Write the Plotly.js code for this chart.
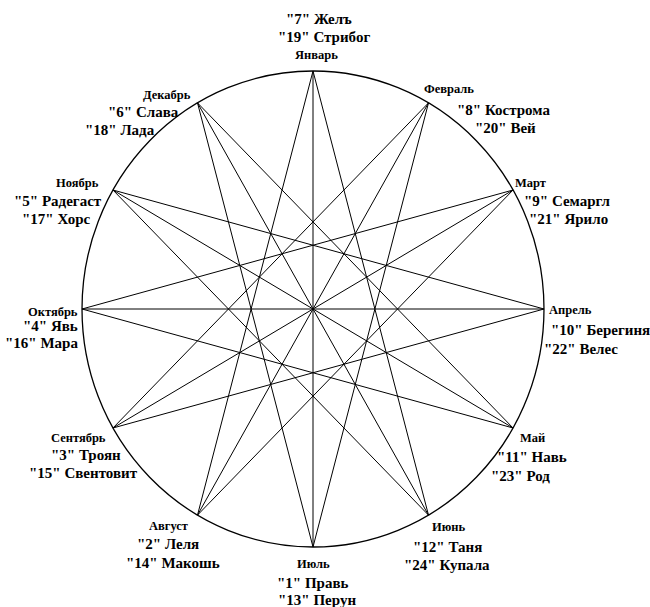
<!DOCTYPE html>
<html>
<head>
<meta charset="utf-8">
<script src="https://cdn.plot.ly/plotly-3.0.1.min.js"></script>
<style>html,body{margin:0;padding:0;background:#fff;}#chart{width:650px;height:607px;}</style>
</head>
<body>
<div id="chart"></div>
<script>
// ---- data ----
const months = ['Январь','Февраль','Март','Апрель','Май','Июнь','Июль','Август','Сентябрь','Октябрь','Ноябрь','Декабрь'];
const firstNums  = [7, 8, 9, 10, 11, 12, 1, 2, 3, 4, 5, 6];
const firstNames = ['Желъ','Кострома','Семаргл','Берегиня','Навь','Таня','Правь','Леля','Троян','Явь','Радегаст','Слава'];
const secondNums  = [19, 20, 21, 22, 23, 24, 13, 14, 15, 16, 17, 18];
const secondNames = ['Стрибог','Вей','Ярило','Велес','Род','Купала','Перун','Макошь','Свентовит','Мара','Хорс','Лада'];
const starStep = 5;      // {12/5} star chords
const diameterStep = 6;  // chords through the centre

// ---- geometry / layout ----
const W = 650, H = 607, CX = 313, CY = 309, RX = 231, RY = 238;
function vx(i){ return Math.cos((90 - 30*i) * Math.PI/180); }
function vy(i){ return Math.sin((90 - 30*i) * Math.PI/180); }

const xs = [], ys = [];
const n = months.length;
for (let i = 0; i < n; i++) {
  const j = (i + starStep) % n;
  xs.push(vx(i), vx(j), null); ys.push(vy(i), vy(j), null);
}
for (let i = 0; i < n/2; i++) {
  const j = (i + diameterStep) % n;
  xs.push(vx(i), vx(j), null); ys.push(vy(i), vy(j), null);
}

// label placement in pixels: [month, first line, second line], each [x, y, anchor]
const labelPos = [
  [[316,55,'center'],[319,19,'center'],[324,37,'center']],
  [[449,89,'center'],[504,110,'center'],[505,128,'center']],
  [[530,183,'center'],[567,201,'center'],[568,219,'center']],
  [[570,310,'center'],[600,330,'center'],[581,349,'center']],
  [[532,438,'center'],[532,457,'center'],[520,476,'center']],
  [[448,527,'center'],[447,547,'center'],[447,565,'center']],
  [[313,564,'center'],[313,583,'center'],[317,600,'center']],
  [[168,526,'center'],[168,544,'center'],[173,563,'center']],
  [[78,438,'center'],[86,455,'center'],[83,473,'center']],
  [[80,312,'right'],[80,326,'right'],[80,343,'right']],
  [[101,183,'right'],[104,201,'right'],[93,219,'right']],
  [[167,95,'center'],[143,112,'center'],[120,130,'center']]
];

const serif = 'Liberation Serif, Times New Roman, serif';
const annotations = [];
function addText(t, p, size){
  annotations.push({
    text: '<b>' + t + '</b>', xref: 'paper', yref: 'paper',
    x: p[0]/W, y: 1 - p[1]/H, xanchor: p[2], yanchor: 'middle',
    showarrow: false, font: {family: serif, size: size, color: '#000'}
  });
}
for (let i = 0; i < n; i++) {
  addText(months[i], labelPos[i][0], 12.5);
  addText('"' + firstNums[i] + '" ' + firstNames[i], labelPos[i][1], 15);
  addText('"' + secondNums[i] + '" ' + secondNames[i], labelPos[i][2], 15);
}

const traces = [{
  type: 'scatter', mode: 'lines', x: xs, y: ys,
  line: {color: '#000', width: 1}, hoverinfo: 'skip', showlegend: false
}];

const layout = {
  width: W, height: H,
  margin: {l: 0, r: 0, t: 0, b: 0},
  paper_bgcolor: '#fff', plot_bgcolor: '#fff',
  showlegend: false,
  xaxis: {range: [-CX/RX, (W-CX)/RX], visible: false, fixedrange: true},
  yaxis: {range: [-(H-CY)/RY, CY/RY], visible: false, fixedrange: true},
  shapes: [{type: 'circle', xref: 'x', yref: 'y', x0: -1, x1: 1, y0: -1, y1: 1,
            line: {color: '#000', width: 1.3}}],
  annotations: annotations
};

Plotly.newPlot('chart', traces, layout, {staticPlot: true, displayModeBar: false});
</script>
</body>
</html>
